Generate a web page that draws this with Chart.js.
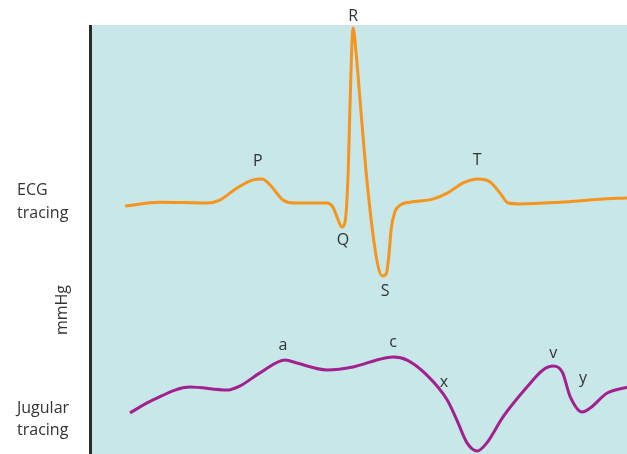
<!DOCTYPE html>
<html>
<head>
<meta charset="utf-8">
<script src="https://cdn.jsdelivr.net/npm/chart.js@4"></script>
<style>
  html, body { margin: 0; padding: 0; background: #fff; }
  canvas { display: block; }
</style>
</head>
<body>
<canvas id="wave" width="627" height="454"></canvas>
<script>
// Curvas (x: tempo relativo 0-100, y: amplitude relativa 0-100)
const ecgX = [6.2, 12.7, 21.5, 23.9, 27.1, 30.1, 31.8, 33.3, 35.7, 37.6, 43.9, 45.0, 46.0, 46.7, 47.3, 47.9, 48.2, 48.8, 49.4, 50.1, 51.2, 52.3, 53.3, 54.2, 55.0, 55.5, 55.9, 56.6, 57.6, 59.4, 63.7, 66.4, 69.4, 72.2, 74.4, 76.3, 77.8, 80.0, 87.5, 95.0, 100];
const ecgY = [57.8, 58.7, 58.5, 59.2, 62.0, 63.9, 64.1, 62.7, 59.2, 58.5, 58.5, 57.6, 54.6, 52.9, 54.1, 66.2, 80.2, 99.3, 93.0, 82.5, 66.2, 53.4, 44.8, 41.5, 42.0, 46.4, 52.2, 56.4, 58.0, 58.7, 59.4, 60.8, 63.2, 64.1, 63.4, 60.8, 58.5, 58.3, 58.7, 59.4, 59.7];

const jugX = [7.1, 11.4, 18.3, 25.2, 27.7, 31.4, 36.1, 38.3, 43.9, 48.8, 53.8, 56.3, 58.9, 62.6, 66.4, 68.2, 70.1, 72.0, 73.8, 76.8, 81.3, 84.3, 86.2, 87.9, 89.4, 91.6, 93.1, 96.3, 100];
const jugY = [9.6, 12.6, 15.6, 14.9, 15.9, 18.9, 21.9, 21.2, 19.6, 20.3, 22.1, 22.6, 21.9, 18.4, 12.6, 7.9, 2.6, 0.7, 2.6, 8.6, 15.6, 19.6, 20.5, 19.1, 13.3, 9.8, 10.7, 14.2, 15.6];

// Letras das ondas
const waveNames = ['P', 'Q', 'R', 'S', 'T', 'a', 'c', 'x', 'v', 'y'];
const waveNameX = [31.0, 46.9, 48.8, 54.8, 72.0, 35.7, 56.3, 65.8, 86.2, 91.8];
const waveNameY = [68.1, 49.7, 101.9, 37.8, 68.5, 25.2, 25.9, 16.6, 23.5, 17.7];

const toPoints = (xs, ys) => xs.map((x, i) => ({ x, y: ys[i] }));

const fontFam = '"Open Sans", "Noto Sans", sans-serif';

const decor = {
  id: 'decor',
  beforeDatasetsDraw(chart) {
    const { ctx, chartArea: a } = chart;
    ctx.save();
    ctx.fillStyle = '#c8e7e8';
    ctx.fillRect(a.left, a.top, a.right - a.left, a.bottom - a.top);
    ctx.fillStyle = '#2b2b2b';
    ctx.fillRect(a.left - 3, a.top, 3, a.bottom - a.top);

    ctx.fillStyle = '#333';
    ctx.font = '16px ' + fontFam;
    ctx.textAlign = 'left';
    ctx.textBaseline = 'middle';
    ctx.fillText('ECG', 17, 190);
    ctx.fillText('tracing', 17, 213);
    ctx.fillText('Jugular', 17, 408);
    ctx.fillText('tracing', 17, 430);

    ctx.translate(62, 310);
    ctx.rotate(-Math.PI / 2);
    ctx.textAlign = 'center';
    ctx.fillText('mmHg', 0, 0);
    ctx.restore();
  },
  afterDatasetsDraw(chart) {
    const { ctx, scales } = chart;
    ctx.save();
    ctx.fillStyle = '#333';
    ctx.font = '16px ' + fontFam;
    ctx.textAlign = 'center';
    ctx.textBaseline = 'middle';
    waveNames.forEach((t, i) => {
      ctx.fillText(t, scales.x.getPixelForValue(waveNameX[i]), scales.y.getPixelForValue(waveNameY[i]));
    });
    ctx.restore();
  }
};

new Chart(document.getElementById('wave').getContext('2d'), {
  type: 'line',
  data: {
    datasets: [
      {
        label: 'ECG',
        data: toPoints(ecgX, ecgY),
        borderColor: '#f7941d',
        borderWidth: 3,
        pointRadius: 0,
        cubicInterpolationMode: 'monotone'
      },
      {
        label: 'Jugular',
        data: toPoints(jugX, jugY),
        borderColor: '#a3218e',
        borderWidth: 3,
        pointRadius: 0,
        cubicInterpolationMode: 'monotone'
      }
    ]
  },
  options: {
    responsive: false,
    animation: false,
    layout: { padding: { left: 92, top: 25, right: 0, bottom: 0 } },
    scales: {
      x: { type: 'linear', min: 0, max: 100, display: false },
      y: { min: 0, max: 100, display: false }
    },
    plugins: {
      legend: { display: false },
      tooltip: { enabled: false }
    },
    clip: false
  },
  plugins: [decor]
});
</script>
</body>
</html>
